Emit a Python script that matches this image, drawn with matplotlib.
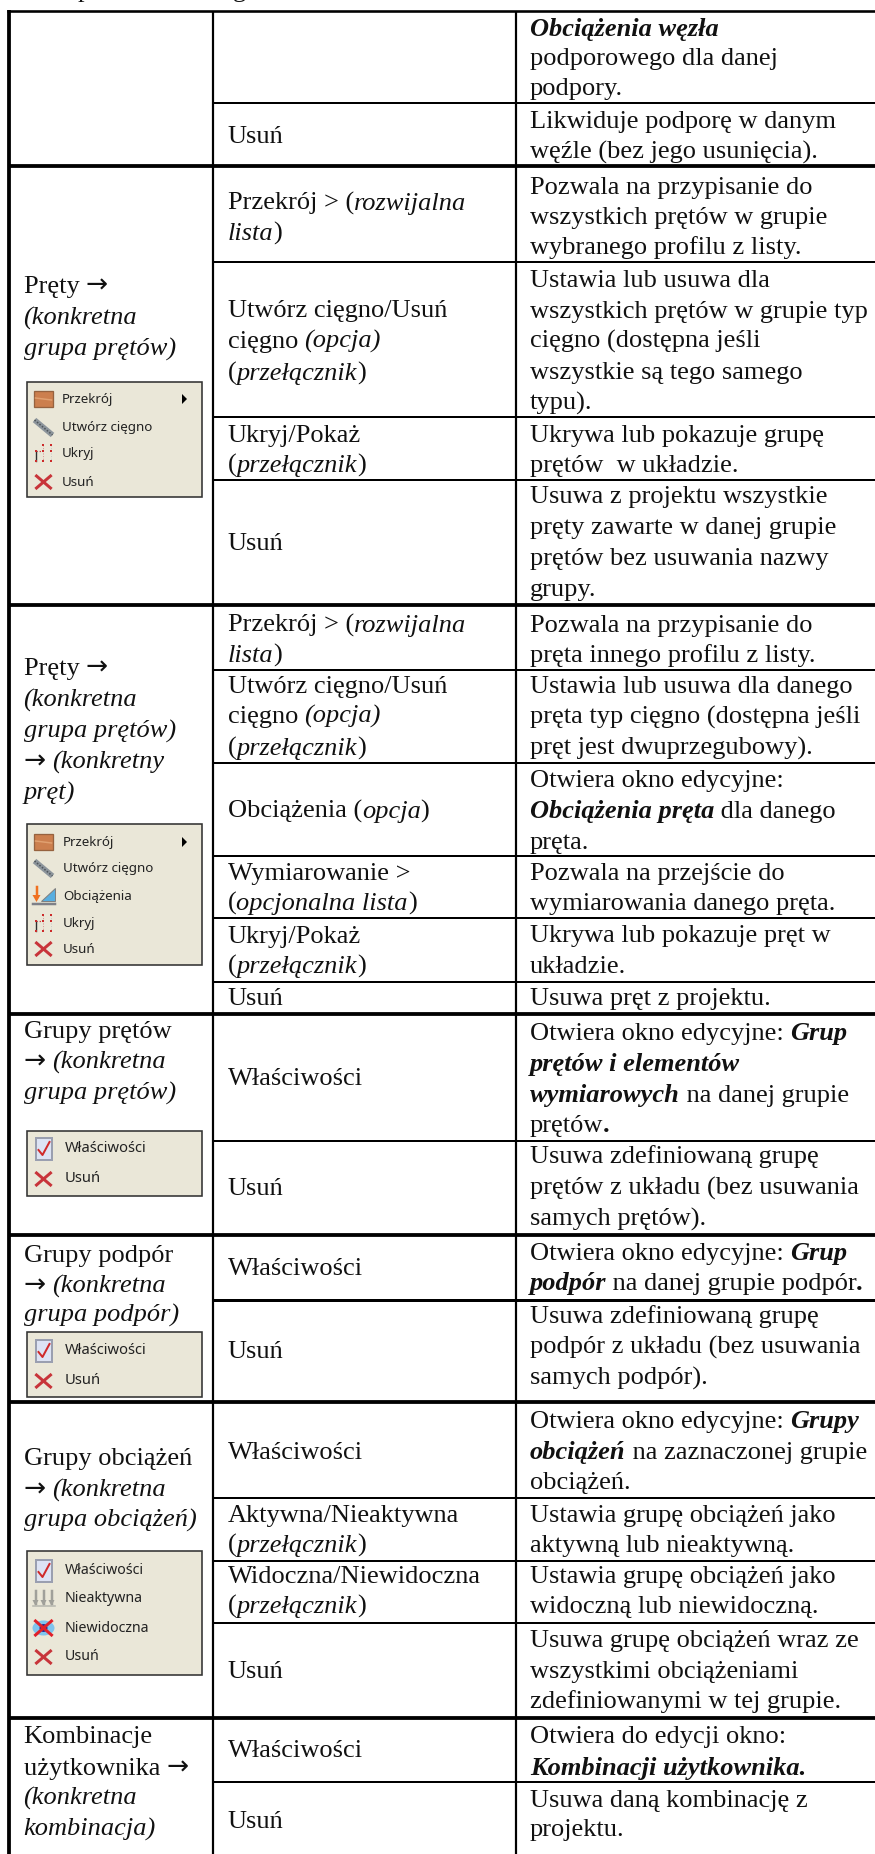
import re
import matplotlib
matplotlib.use("Agg")
import matplotlib.pyplot as plt
from matplotlib.patches import Rectangle, Polygon, Ellipse

SERIF = "Liberation Serif"
SANS = "Noto Sans"
FS = 19.0

# table text: _x_ italic, *x* bold italic
col_a = [
    "Pręty →\n_(konkretna_\n_grupa prętów)_",
    "Pręty →\n_(konkretna_\n_grupa prętów)_\n→ _(konkretny_\n_pręt)_",
    "Grupy prętów\n→ _(konkretna_\n_grupa prętów)_",
    "Grupy podpór\n→ _(konkretna_\n_grupa podpór)_",
    "Grupy obciążeń\n→ _(konkretna_\n_grupa obciążeń)_",
    "Kombinacje\nużytkownika →\n_(konkretna_\n_kombinacja)_",
]
col_b = [
    "Usuń",
    "Przekrój > (_rozwijalna_\n_lista_)",
    "Utwórz cięgno/Usuń\ncięgno _(opcja)_\n(_przełącznik_)",
    "Ukryj/Pokaż\n(_przełącznik_)",
    "Usuń",
    "Przekrój > (_rozwijalna_\n_lista_)",
    "Utwórz cięgno/Usuń\ncięgno _(opcja)_\n(_przełącznik_)",
    "Obciążenia (_opcja_)",
    "Wymiarowanie >\n(_opcjonalna lista_)",
    "Ukryj/Pokaż\n(_przełącznik_)",
    "Usuń",
    "Właściwości",
    "Usuń",
    "Właściwości",
    "Usuń",
    "Właściwości",
    "Aktywna/Nieaktywna\n(_przełącznik_)",
    "Widoczna/Niewidoczna\n(_przełącznik_)",
    "Usuń",
    "Właściwości",
    "Usuń",
]
col_c = [
    "*Obciążenia węzła*\npodporowego dla danej\npodpory.",
    "Likwiduje podporę w danym\nwęźle (bez jego usunięcia).",
    "Pozwala na przypisanie do\nwszystkich prętów w grupie\nwybranego profilu z listy.",
    "Ustawia lub usuwa dla\nwszystkich prętów w grupie typ\ncięgno (dostępna jeśli\nwszystkie są tego samego\ntypu).",
    "Ukrywa lub pokazuje grupę\nprętów  w układzie.",
    "Usuwa z projektu wszystkie\npręty zawarte w danej grupie\nprętów bez usuwania nazwy\ngrupy.",
    "Pozwala na przypisanie do\npręta innego profilu z listy.",
    "Ustawia lub usuwa dla danego\npręta typ cięgno (dostępna jeśli\npręt jest dwuprzegubowy).",
    "Otwiera okno edycyjne:\n*Obciążenia pręta* dla danego\npręta.",
    "Pozwala na przejście do\nwymiarowania danego pręta.",
    "Ukrywa lub pokazuje pręt w\nukładzie.",
    "Usuwa pręt z projektu.",
    "Otwiera okno edycyjne: *Grup*\n*prętów i elementów*\n*wymiarowych* na danej grupie\nprętów*.*",
    "Usuwa zdefiniowaną grupę\nprętów z układu (bez usuwania\nsamych prętów).",
    "Otwiera okno edycyjne: *Grup*\n*podpór* na danej grupie podpór*.*",
    "Usuwa zdefiniowaną grupę\npodpór z układu (bez usuwania\nsamych podpór).",
    "Otwiera okno edycyjne: *Grupy*\n*obciążeń* na zaznaczonej grupie\nobciążeń.",
    "Ustawia grupę obciążeń jako\naktywną lub nieaktywną.",
    "Ustawia grupę obciążeń jako\nwidoczną lub niewidoczną.",
    "Usuwa grupę obciążeń wraz ze\nwszystkimi obciążeniami\nzdefiniowanymi w tej grupie.",
    "Otwiera do edycji okno:\n*Kombinacji użytkownika.*",
    "Usuwa daną kombinację z\nprojektu.",
]
panel_items = [
    [("section", "Przekrój"), ("cable", "Utwórz cięgno"), ("hide", "Ukryj"), ("x", "Usuń")],
    [("section", "Przekrój"), ("cable", "Utwórz cięgno"), ("load", "Obciążenia"), ("hide", "Ukryj"), ("x", "Usuń")],
    [("check", "Właściwości"), ("x", "Usuń")],
    [("check", "Właściwości"), ("x", "Usuń")],
    [("check", "Właściwości"), ("off", "Nieaktywna"), ("invis", "Niewidoczna"), ("x", "Usuń")],
]

# layout, pixels of the page
col_x = [9, 212.7, 516]
text_x = [23.5, 227.5, 530]
top_y = 11
thin_rules = [103, 262, 417, 480, 670, 763, 856, 918, 982, 1141, 1498, 1561, 1623, 1782]
mid_rules = [1300]
thick_rules = [166, 605, 1014, 1235, 1402, 1718]
a_base = [[293, 325, 356], [675, 707, 738, 769, 800], [1038, 1069, 1100],
          [1262, 1293, 1322], [1465, 1497, 1527], [1743, 1775, 1805, 1836]]
b_base = [[143], [210, 240], [317, 348, 380], [442, 472], [550], [632, 662], [693, 723, 755],
          [818], [880, 910], [943, 973], [1005], [1085], [1195], [1275], [1358], [1459],
          [1522, 1552], [1583, 1613], [1678], [1757], [1828]]
c_base = [[36, 65, 95], [128, 159], [194, 224, 254], [287, 318, 348, 379, 410], [442, 472],
          [503, 534, 565, 596], [632, 662], [693, 724, 755], [787, 818, 849], [880, 910],
          [942, 973], [1005], [1040, 1071, 1102, 1132], [1163, 1195, 1226], [1260, 1290],
          [1323, 1354, 1385], [1428, 1459, 1489], [1522, 1552], [1583, 1613],
          [1647, 1678, 1708], [1743, 1775], [1807, 1836]]
panel_boxes = [(382, 497), (824, 965), (1131, 1196), (1332, 1397), (1551, 1675)]
panel_rows = [[399, 427, 453, 482], [842, 868, 896, 923, 949], [1149, 1179], [1351, 1381],
              [1571, 1599, 1628, 1657]]
panel_text_x = [62, 63, 65, 65, 65]
panel_fs = [9.6, 9.6, 10.6, 10.6, 10.2]

fig = plt.figure(figsize=(8.75, 18.54), dpi=100)
ax = fig.add_axes([0, 0, 1, 1])
ax.set_xlim(0, 875)
ax.set_ylim(1854, 0)
ax.axis("off")
renderer = fig.canvas.get_renderer()


def px(w):
    return w * 0.72


def style_of(code):
    if code == "i":
        return dict(family=SERIF, style="italic")
    if code == "b":
        return dict(family=SERIF, style="italic", weight="bold")
    if code == "a":
        return dict(family="DejaVu Sans")
    return dict(family=SERIF)


def measure(s, kw):
    t = ax.text(0, 0, s + "|", fontsize=FS, **kw)
    w1 = t.get_window_extent(renderer).width
    t.set_text("|")
    w2 = t.get_window_extent(renderer).width
    t.remove()
    return w1 - w2


def draw_line(x, y, line):
    # split the line in style runs and put them one after the other
    code = "r"
    for part in re.split(r"([_*→])", line):
        if part == "_":
            code = "r" if code == "i" else "i"
        elif part == "*":
            code = "r" if code == "b" else "b"
        elif part == "→":
            kw = style_of("a")
            ax.text(x, y, part, fontsize=FS, va="baseline", ha="left", color="#111111", **kw)
            x += measure(part, kw)
        elif part:
            kw = style_of(code)
            ax.text(x, y, part, fontsize=FS, va="baseline", ha="left", color="#111111", **kw)
            x += measure(part, kw)


def draw_cells(cells, bases, x):
    for cell, base in zip(cells, bases):
        for line, y in zip(cell.split("\n"), base):
            draw_line(x, y, line)


def icon(kind, cx, y):
    if kind == "section":
        ax.add_patch(Rectangle((cx - 9.5, y - 8), 19, 16, fc="#CC7F4E", ec="#96623F", lw=px(1.3)))
        ax.plot([cx - 8, cx + 8], [y - 1, y + 1], color="#E0A070", lw=px(1.5))
    elif kind == "cable":
        ax.plot([cx - 9, cx + 9], [y - 7, y + 8], color="#8D959C", lw=px(5.5), solid_capstyle="butt")
        ax.plot([cx - 9, cx + 9], [y - 7, y + 8], color="#4F565C", lw=px(1.6), ls=(0, (1, 1)))
    elif kind == "hide":
        xs = [cx - 8, cx - 1, cx + 7]
        ax.plot([xs[1], xs[1]], [y - 8, y + 8], color="#D89090", lw=px(1), ls=":")
        ax.plot([xs[2], xs[2]], [y - 8, y + 8], color="#C8C8C8", lw=px(1), ls=":")
        ax.plot([xs[0], xs[1]], [y - 2, y - 2], color="#C03030", lw=px(1.2), ls=":")
        ax.plot([xs[0], xs[0]], [y - 2, y + 8], color="#303030", lw=px(1.4))
        for a, b in [(1, -8), (2, -8), (0, -2), (1, -2), (2, -2), (0, 8), (1, 8), (2, 8)]:
            ax.plot(xs[a], y + b, "s", ms=px(2.6), color="#CC2A2A", mew=0)
    elif kind == "x":
        ax.plot([cx - 7, cx + 7], [y - 6, y + 6], color="#C8343A", lw=px(3))
        ax.plot([cx - 7, cx + 7], [y + 6, y - 6], color="#C8343A", lw=px(3))
    elif kind == "check":
        ax.add_patch(Rectangle((cx - 7.5, y - 11), 16, 22, fc="#DDE3F4", ec="#9A9FB0", lw=px(2)))
        ax.plot([cx - 5, cx - 1, cx + 6], [y + 1, y + 6, y - 7], color="#D02A2A", lw=px(2))
    elif kind == "off":
        for dx in [-8, 0, 8]:
            ax.plot([cx + dx, cx + dx], [y - 8, y + 5], color="#A0A09A", lw=px(2.5))
            ax.add_patch(Polygon([(cx + dx - 3, y + 1), (cx + dx + 3, y + 1), (cx + dx, y + 7)], fc="#A0A09A", ec="none"))
        ax.plot([cx - 11, cx + 11], [y + 7, y + 7], color="#B8B8B0", lw=px(1.6))
    elif kind == "invis":
        ax.add_patch(Ellipse((cx, y), 22, 15, fc="#7FC4EE", ec="none"))
        ax.add_patch(Ellipse((cx, y), 8, 8, fc="#2A2A90", ec="none"))
        ax.plot([cx - 8, cx + 8], [y - 7, y + 7], color="#E0202A", lw=px(3))
        ax.plot([cx - 8, cx + 8], [y + 7, y - 7], color="#E0202A", lw=px(3))
    elif kind == "load":
        ax.add_patch(Polygon([(cx - 3, y + 5), (cx + 11, y + 5), (cx + 11, y - 8)], fc="#58AEE0", ec="#808080", lw=px(1)))
        ax.plot([cx - 11, cx + 11], [y + 8, y + 8], color="#7E8088", lw=px(2.5))
        ax.plot([cx - 7, cx - 7], [y - 9, y + 1], color="#F07020", lw=px(2.5))
        ax.add_patch(Polygon([(cx - 11, y - 1), (cx - 3, y - 1), (cx - 7, y + 6)], fc="#F07020", ec="none"))


# rules
ax.hlines(top_y, col_x[0] - 2, 875, color="black", lw=px(2.6))
ax.hlines(thin_rules, col_x[1], 875, color="black", lw=px(2))
ax.hlines(mid_rules, col_x[1], 875, color="black", lw=px(3))
ax.hlines(thick_rules, col_x[0], 875, color="black", lw=px(3.8))
ax.vlines(col_x[0], top_y - 1, 1854, color="black", lw=px(3.8))
ax.vlines(col_x[1:], top_y, 1854, color="black", lw=px(2.2))

# clipped line of text above the table
ax.text(78, -3, "p", fontsize=FS, family=SERIF, color="#111111")
ax.text(233, -3, "g", fontsize=FS, family=SERIF, color="#111111")

draw_cells(col_a, a_base, text_x[0])
draw_cells(col_b, b_base, text_x[1])
draw_cells(col_c, c_base, text_x[2])

# context menu pictures
for i, (y0, y1) in enumerate(panel_boxes):
    ax.add_patch(Rectangle((27, y0), 175, y1 - y0, fc="#EAE7D8", ec="#333333", lw=px(1.6), zorder=0.5))
    for (kind, label), y in zip(panel_items[i], panel_rows[i]):
        icon(kind, 43.5, y)
        ax.text(panel_text_x[i], y, label, fontsize=panel_fs[i], family=SANS, va="center", color="#222222")
    if panel_items[i][0][0] == "section":
        ya = panel_rows[i][0]
        ax.add_patch(Polygon([(182, ya - 5), (182, ya + 5), (187, ya)], fc="black", ec="none", zorder=3))

fig.savefig("out.png", dpi=100)
